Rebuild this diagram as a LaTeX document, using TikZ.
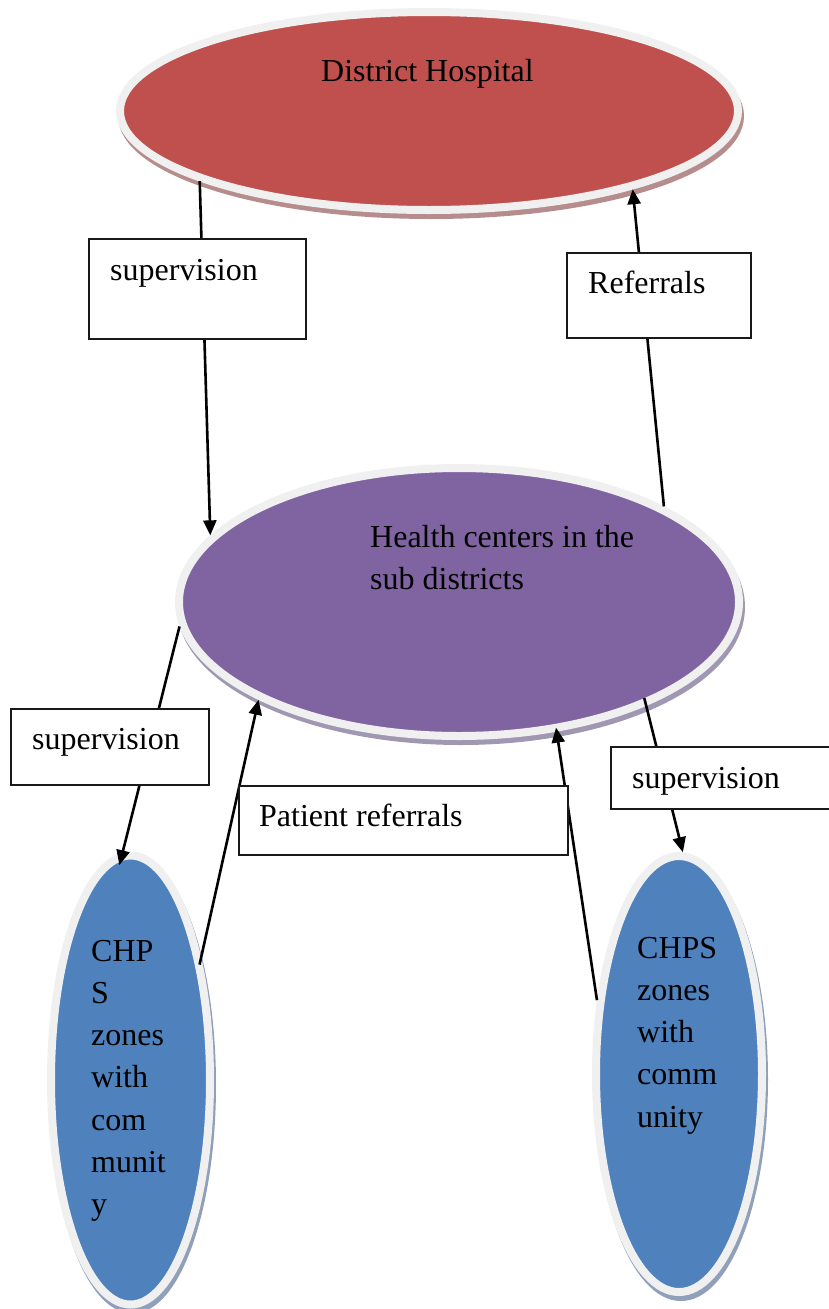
\documentclass[tikz,border=0pt]{standalone}
\usepackage{fontspec}
\setmainfont{Liberation Serif}
\usetikzlibrary{shapes.geometric,arrows.meta}
\definecolor{hospital}{RGB}{192,80,77}
\definecolor{centre}{RGB}{128,100,162}
\definecolor{zone}{RGB}{79,129,189}
\definecolor{hospitalsh}{RGB}{182,140,140}
\definecolor{centresh}{RGB}{160,152,178}
\definecolor{zonesh}{RGB}{144,160,186}
\definecolor{rim}{RGB}{240,240,240}
% left-aligned lines whose baseline is the first line
\newcommand\textlines[1]{\begin{tabular}[t]{@{}l@{}}#1\end{tabular}}
\begin{document}
\begin{tikzpicture}[x=1pt,y=-1pt,
  every node/.style={font=\fontsize{32}{42.3}\selectfont, inner sep=0pt},
  blob/.style 2 args={ellipse, draw=rim, line width=8pt, fill=#1,
    preaction={draw=#2, fill=#2, line width=8pt,
      transform canvas={xshift=2pt,yshift=-5pt}}},
  box/.style={draw=black!90, line width=2pt, fill=white, anchor=north west, outer sep=0pt},
  lbl/.style={anchor=base west},
  link/.style={line width=2.6pt, -{Triangle[length=15pt,width=13pt]}}]
\useasboundingbox (0,0) rectangle (828,1309);

% the four levels of the district health system
\node[blob={hospital}{hospitalsh}, minimum width=618pt, minimum height=198pt] (dh) at (429,111) {};
\node[blob={centre}{centresh}, minimum width=560pt, minimum height=268pt] (hc) at (459,602) {};
\node[blob={zone}{zonesh}, minimum width=159pt, minimum height=449pt] (zl) at (130.5,1080) {};
\node[blob={zone}{zonesh}, minimum width=166pt, minimum height=436pt] (zr) at (679,1074) {};

\node[lbl] (dht) at (321,81) {District Hospital};
\node[lbl] (hct) at (370,547) {\textlines{Health centers in the\\sub districts}};
\node[lbl] (zlt) at (91,961) {\textlines{CHP\\S\\zones\\with\\com\\munit\\y}};
\node[lbl] (zrt) at (637,958) {\textlines{CHPS\\zones\\with\\comm\\unity}};

% connectors
\draw[link] (dh.197.7) -- (hc.165.6);
\draw[link] (hc.25.6) -- (dh.339.5);
\draw[link, shorten >=-13pt] (hc.185) -- (zl.92);
\draw[link, shorten <=-7pt] (zl.60.5) -- (hc.206);
\draw[link, shorten >=-4pt] (zr.138.3) -- (hc.307.6);
\draw[link, shorten <=-8pt] (hc.331.1) -- (zr.89.5);

% labels on the connectors
\node[box, minimum width=217pt, minimum height=100pt] (supA) at (89,239) {};
\node[lbl] at (110,280) {supervision};
\node[box, minimum width=184pt, minimum height=85pt] (refA) at (567,253) {};
\node[lbl] at (588,293) {Referrals};
\node[box, minimum width=198pt, minimum height=76pt] (supB) at (11,709) {};
\node[lbl] at (32,749) {supervision};
\node[box, minimum width=329pt, minimum height=69pt] (patA) at (239,786) {};
\node[lbl] at (259,826) {Patient referrals};
\node[box, minimum width=230pt, minimum height=62pt] (supC) at (611,747) {};
\node[lbl] at (632,788) {supervision};
\end{tikzpicture}
\end{document}
